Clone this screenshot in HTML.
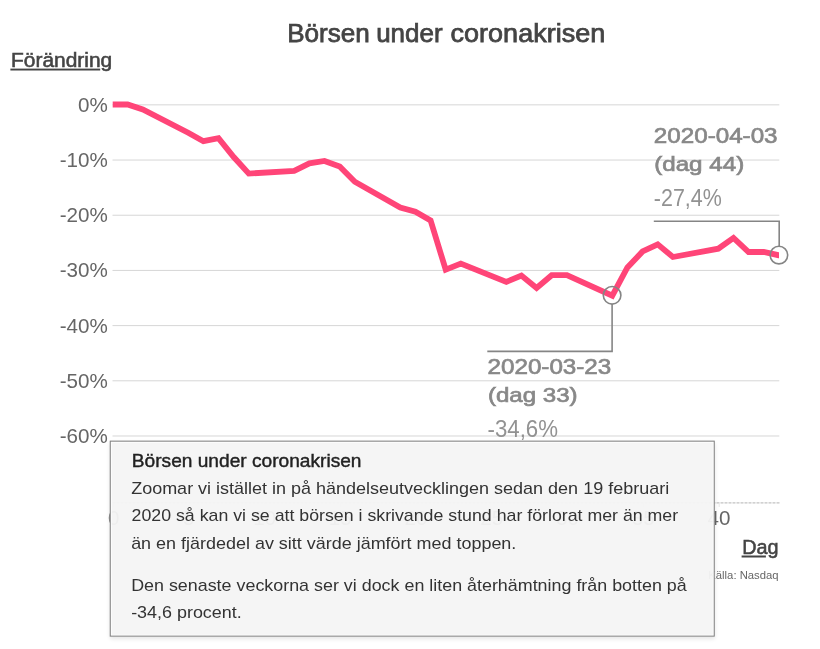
<!DOCTYPE html>
<html lang="sv">
<head>
<meta charset="utf-8">
<title>Börsen under coronakrisen</title>
<style>
html,body{margin:0;padding:0;background:#fff;}
body{width:820px;height:649px;overflow:hidden;position:relative;font-family:"Liberation Sans", Arial, Helvetica, sans-serif;}
svg{display:block;position:absolute;left:0;top:0;}
text{font-family:"Liberation Sans", Arial, Helvetica, sans-serif;}
.tick{font-size:20.6px;fill:#666;}
.grid{stroke:#d6d6d6;stroke-width:1;}
.axt{font-size:20.1px;fill:#444;stroke:#444;stroke-width:0.55px;}
.ann-t{font-size:22.4px;fill:#888;stroke:#888;stroke-width:0.7px;}
.ann-t2{font-size:21px;}
.ann-l{font-size:23.3px;fill:#929292;}
.conn{fill:none;stroke:#858585;stroke-width:1.6;}
#box{position:absolute;left:110px;top:441px;transform:translate(-0.25px,-0.35px);width:603px;height:194px;border:1px solid #7e7e7e;background:rgba(245,245,245,0.955);box-shadow:inset 0 0 0 1px rgba(255,255,255,0.9),0 2px 4px rgba(0,0,0,0.10);}
#box svg{left:-110.75px;top:-441.65px;}
.bt{font-size:17.9px;fill:#222;stroke:#222;stroke-width:0.4px;}
.bb{font-size:17px;fill:#333;}
</style>
</head>
<body>
<svg width="820" height="649" viewBox="0 0 820 649">
<text y="42.3" font-size="25.5" fill="#444" stroke="#444" stroke-width="0.75"><tspan x="287.2" textLength="82.6" lengthAdjust="spacingAndGlyphs">Börsen</tspan> <tspan x="376.2" textLength="66.4" lengthAdjust="spacingAndGlyphs">under</tspan> <tspan x="450.6" textLength="154.6" lengthAdjust="spacingAndGlyphs">coronakrisen</tspan></text>
<text class="axt" x="11.0" y="66.5" textLength="101.2" lengthAdjust="spacingAndGlyphs">Förändring</text>
<rect x="10.4" y="68.6" width="89.8" height="1.9" fill="#444"/>
<line class="grid" x1="112.5" x2="779.3" y1="104.85" y2="104.85"/>
<text class="tick" x="107.8" y="111.8" text-anchor="end">0%</text>
<line class="grid" x1="112.5" x2="779.3" y1="160.04" y2="160.04"/>
<text class="tick" x="107.8" y="167.0" text-anchor="end">-10%</text>
<line class="grid" x1="112.5" x2="779.3" y1="215.23" y2="215.23"/>
<text class="tick" x="107.8" y="222.2" text-anchor="end">-20%</text>
<line class="grid" x1="112.5" x2="779.3" y1="270.42" y2="270.42"/>
<text class="tick" x="107.8" y="277.4" text-anchor="end">-30%</text>
<line class="grid" x1="112.5" x2="779.3" y1="325.61" y2="325.61"/>
<text class="tick" x="107.8" y="332.6" text-anchor="end">-40%</text>
<line class="grid" x1="112.5" x2="779.3" y1="380.80" y2="380.80"/>
<text class="tick" x="107.8" y="387.8" text-anchor="end">-50%</text>
<line class="grid" x1="112.5" x2="779.3" y1="435.99" y2="435.99"/>
<text class="tick" x="107.8" y="443.0" text-anchor="end">-60%</text>
<line x1="112.5" x2="780" y1="502.8" y2="502.8" stroke="#c2c2c2" stroke-width="1.3" stroke-dasharray="3 1"/>
<line x1="113.4" x2="113.4" y1="503" y2="507" stroke="#e6e6e6" stroke-width="1"/>
<text class="tick" x="113.8" y="525.2" text-anchor="middle">0</text>
<line x1="189.1" x2="189.1" y1="503" y2="507" stroke="#e6e6e6" stroke-width="1"/>
<text class="tick" x="188.8" y="525.2" text-anchor="middle">5</text>
<line x1="264.9" x2="264.9" y1="503" y2="507" stroke="#e6e6e6" stroke-width="1"/>
<text class="tick" x="264.6" y="525.2" text-anchor="middle">10</text>
<line x1="340.6" x2="340.6" y1="503" y2="507" stroke="#e6e6e6" stroke-width="1"/>
<text class="tick" x="340.3" y="525.2" text-anchor="middle">15</text>
<line x1="416.3" x2="416.3" y1="503" y2="507" stroke="#e6e6e6" stroke-width="1"/>
<text class="tick" x="416.0" y="525.2" text-anchor="middle">20</text>
<line x1="492.0" x2="492.0" y1="503" y2="507" stroke="#e6e6e6" stroke-width="1"/>
<text class="tick" x="491.7" y="525.2" text-anchor="middle">25</text>
<line x1="567.8" x2="567.8" y1="503" y2="507" stroke="#e6e6e6" stroke-width="1"/>
<text class="tick" x="567.5" y="525.2" text-anchor="middle">30</text>
<line x1="643.5" x2="643.5" y1="503" y2="507" stroke="#e6e6e6" stroke-width="1"/>
<text class="tick" x="643.2" y="525.2" text-anchor="middle">35</text>
<line x1="719.2" x2="719.2" y1="503" y2="507" stroke="#e6e6e6" stroke-width="1"/>
<text class="tick" x="718.9" y="525.2" text-anchor="middle">40</text>
<text class="axt" x="742.3" y="553.9" textLength="36.3" lengthAdjust="spacingAndGlyphs">Dag</text>
<rect x="741.6" y="555.5" width="24.3" height="2" fill="#444"/>
<text x="708.3" y="579" font-size="11.3" fill="#666" textLength="70.3" lengthAdjust="spacingAndGlyphs">Källa: Nasdaq</text>
<clipPath id="pc"><rect x="112.4" y="90" width="666.6" height="360"/></clipPath>
<polyline clip-path="url(#pc)" points="112.5,104.5 127.6,104.5 142.8,109.5 188.2,132.7 203.4,141.2 218.5,138.2 233.7,157.0 248.8,173.6 294.2,170.8 309.4,163.3 324.5,160.9 339.7,166.4 354.8,181.8 400.3,207.5 415.4,211.7 430.6,220.5 445.7,269.7 460.8,263.6 506.3,281.9 521.4,275.5 536.6,287.9 551.7,275.2 566.9,275.2 612.3,295.7 627.4,267.5 642.6,251.5 657.7,244.3 672.9,257.0 718.3,248.7 733.5,237.9 748.6,252.0 763.8,252.0 778.9,255.3 794.0,258.6" fill="none" stroke="#ff4578" stroke-width="5.8" stroke-linejoin="miter" stroke-linecap="butt"/>
<circle class="conn" cx="778.9" cy="255.1" r="8.8"/>
<polyline class="conn" points="779.2,246.3 779.2,221.3 653.8,221.3"/>
<text class="ann-t" x="653.8" y="143.0" textLength="123.8" lengthAdjust="spacingAndGlyphs">2020-04-03</text>
<text class="ann-t ann-t2" x="654.2" y="171.0" textLength="90.0" lengthAdjust="spacingAndGlyphs">(dag 44)</text>
<text class="ann-l" x="653.8" y="205.5" textLength="68" lengthAdjust="spacingAndGlyphs">-27,4%</text>
<circle class="conn" cx="612.1" cy="295.3" r="8.8"/>
<polyline class="conn" points="612.1,304.1 612.1,351.4 487.3,351.4"/>
<text class="ann-t" x="487.5" y="373.9" textLength="123.8" lengthAdjust="spacingAndGlyphs">2020-03-23</text>
<text class="ann-t ann-t2" x="487.9" y="401.7" textLength="89.7" lengthAdjust="spacingAndGlyphs">(dag 33)</text>
<text class="ann-l" x="487.5" y="437.2" textLength="70.5" lengthAdjust="spacingAndGlyphs">-34,6%</text>
</svg>
<div id="box"><svg width="820" height="649" viewBox="0 0 820 649">
<text class="bt" x="132.05" y="467.2" textLength="229.7" lengthAdjust="spacingAndGlyphs">Börsen under coronakrisen</text>
<text class="bb" x="131.4" y="494.4" textLength="538.0" lengthAdjust="spacingAndGlyphs">Zoomar vi istället in på händelseutvecklingen sedan den 19 februari</text>
<text class="bb" x="131.8" y="521.7" textLength="546.6" lengthAdjust="spacingAndGlyphs">2020 så kan vi se att börsen i skrivande stund har förlorat mer än mer</text>
<text class="bb" x="131.4" y="549.0" textLength="385.2" lengthAdjust="spacingAndGlyphs">än en fjärdedel av sitt värde jämfört med toppen.</text>
<text class="bb" x="131.4" y="591.3" textLength="555.6" lengthAdjust="spacingAndGlyphs">Den senaste veckorna ser vi dock en liten återhämtning från botten på</text>
<text class="bb" x="131.4" y="618.7" textLength="110.6" lengthAdjust="spacingAndGlyphs">-34,6 procent.</text>
</svg></div>
</body>
</html>
